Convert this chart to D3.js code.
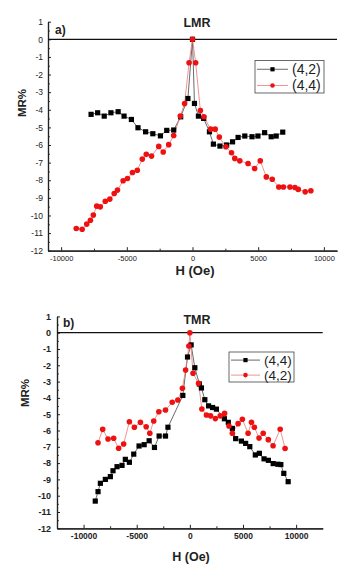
<!DOCTYPE html>
<html>
<head>
<meta charset="utf-8">
<script src="https://cdn.jsdelivr.net/npm/d3@7"></script>
<style>
  body { margin: 0; background: #fff; }
  svg { display: block; font-family: "Liberation Sans", Arial, sans-serif; }
</style>
</head>
<body>
<script>
// panel a) LMR, [H (Oe), MR%]
const lmr42 = [[-7720,-4.26],[-7220,-4.17],[-6720,-4.36],[-6210,-4.17],[-5660,-4.11],[-5210,-4.36],[-4650,-4.55],
  [-4150,-5.02],[-3570,-5.25],[-3020,-5.36],[-2440,-5.48],[-1960,-5.17],[-1430,-5.15],[-900,-4.4],[-350,-3.36],
  [0,0],[150,-3.64],[450,-4.36],[850,-4.49],[1290,-5.25],[1590,-5.95],[2090,-6.06],[2600,-6.0],[3050,-5.82],
  [3470,-5.57],[3980,-5.49],[4530,-5.53],[4980,-5.49],[5490,-5.3],[5990,-5.53],[6370,-5.49],[6870,-5.27]];
const lmr44 = [[-8850,-10.74],[-8400,-10.78],[-8050,-10.49],[-7770,-10.27],[-7550,-9.98],[-7290,-9.47],[-7020,-9.51],
  [-6640,-9.19],[-6290,-9.07],[-5960,-8.75],[-5710,-8.56],[-5280,-8.03],[-4950,-7.9],[-4570,-7.56],[-4200,-7.43],
  [-3820,-6.8],[-3520,-6.53],[-3120,-6.63],[-2570,-6.08],[-2230,-6.4],[-1810,-5.98],[-1430,-5.46],[-930,-4.36],
  [-600,-3.64],[-260,-1.33],[0,0],[240,-1.33],[600,-4.04],[870,-4.4],[1380,-5.1],[1730,-5.1],[2040,-5.55],
  [2540,-6.1],[2970,-6.44],[3220,-6.76],[3600,-6.9],[4230,-7.05],[4730,-7.33],[5160,-6.9],[5620,-7.81],
  [6070,-7.94],[6570,-8.38],[6920,-8.38],[7420,-8.38],[7800,-8.41],[8050,-8.52],[8580,-8.66],[9010,-8.6]];

// panel b) TMR
const tmr44 = [[-8900,-10.33],[-8640,-9.75],[-8420,-9.24],[-7950,-9.0],[-7480,-8.83],[-7230,-8.47],[-6850,-8.22],
  [-6380,-8.14],[-6070,-7.77],[-5690,-7.95],[-5280,-7.45],[-4780,-6.95],[-4300,-6.87],[-3830,-6.63],[-3330,-7.04],
  [-2890,-6.34],[-2290,-6.34],[-2060,-5.8],[-660,-3.85],[-220,-1.49],[120,-0.75],[470,-2.15],[900,-3.15],
  [1090,-3.39],[1410,-4.11],[1760,-4.49],[2140,-4.59],[2500,-4.69],[3250,-5.28],[3620,-5.5],[4000,-5.87],
  [4310,-6.5],[4850,-6.65],[5250,-6.79],[5640,-6.99],[6160,-7.5],[6540,-7.4],[6980,-7.74],[7390,-7.83],
  [7840,-8.03],[8280,-8.07],[8560,-8.09],[8840,-8.63],[9250,-9.14]];
const tmr42 = [[-8640,-6.75],[-8200,-5.93],[-7700,-6.52],[-7170,-6.48],[-6700,-7.09],[-6230,-6.83],[-5690,-5.46],
  [-5220,-5.8],[-4650,-5.5],[-4110,-5.77],[-3770,-6.17],[-3400,-5.42],[-2920,-4.85],[-2290,-4.74],[-1660,-4.27],
  [-1130,-4.13],[-700,-3.41],[-400,-2.29],[-90,-0.82],[0,0],[300,-2.49],[820,-3.1],[1130,-4.68],[1560,-5.05],
  [1950,-5.1],[2400,-5.27],[2860,-5.1],[3270,-4.95],[3680,-5.72],[4000,-6.17],[4540,-5.58],[4940,-5.31],
  [5480,-6.17],[5800,-5.49],[6070,-5.8],[6510,-6.46],[6900,-6.17],[7380,-6.56],[7830,-6.94],[8500,-5.92],[8960,-7.1]];

const yTicks = d3.range(-12, 2);
const yMinor = d3.range(-11.5, 1, 1);
const xTicks = [-10000, -5000, 0, 5000, 10000];
const xMinor = [-7500, -2500, 2500, 7500];

const svg = d3.select('body').append('svg').attr('width', 356).attr('height', 564);

function marker(sel, s, cx, cy, size) {
  if (s.shape === 'square') {
    sel.append('rect').attr('x', cx - size).attr('y', cy - size)
      .attr('width', size * 2).attr('height', size * 2).attr('fill', '#000');
  } else {
    sel.append('circle').attr('cx', cx).attr('cy', cy).attr('r', size + 0.2).attr('fill', '#ee1111');
  }
}

function drawPanel(p) {
  const x = d3.scaleLinear().domain(p.xDomain).range(p.xRange);
  const y = d3.scaleLinear().domain([-12, 1]).range(p.yRange);
  const g = svg.append('g');

  // axes, ticks point inward like Origin
  const xAx = g.append('g').attr('transform', `translate(0,${p.yRange[0]})`)
    .call(d3.axisBottom(x).tickValues(xTicks).tickSize(-3.5).tickSizeOuter(0).tickPadding(5).tickFormat(d => String(d)));
  g.append('g').attr('transform', `translate(0,${p.yRange[0]})`)
    .call(d3.axisBottom(x).tickValues(xMinor).tickSize(-2).tickSizeOuter(0).tickFormat(''));
  const yAx = g.append('g').attr('transform', `translate(${p.xRange[0]},0)`)
    .call(d3.axisLeft(y).tickValues(yTicks).tickSize(-3).tickSizeOuter(0).tickPadding(p.yPad).tickFormat(d => String(d)));
  g.append('g').attr('transform', `translate(${p.xRange[0]},0)`)
    .call(d3.axisLeft(y).tickValues(yMinor).tickSize(-1.8).tickSizeOuter(0).tickFormat(''));
  g.selectAll('.domain').attr('stroke', '#222').attr('stroke-width', 1.2);
  g.selectAll('.tick line').attr('stroke', '#222');
  xAx.selectAll('text').attr('font-size', p.xFont).attr('font-weight', p.tickWeight).attr('fill', '#222');
  yAx.selectAll('text').attr('font-size', p.yFont).attr('font-weight', p.tickWeight).attr('fill', '#222');

  // zero line
  g.append('line')
    .attr('x1', p.xRange[0]).attr('x2', p.xRange[1])
    .attr('y1', y(0)).attr('y2', y(0))
    .attr('stroke', '#111').attr('stroke-width', 1.3);

  const line = d3.line().x(d => x(d[0])).y(d => y(d[1]));

  p.series.forEach(s => {
    g.append('path').datum(s.data)
      .attr('d', line).attr('fill', 'none')
      .attr('stroke', s.lineColor).attr('stroke-width', 0.8);
  });
  p.series.forEach(s => {
    const mg = g.append('g');
    s.data.forEach(d => marker(mg, s, x(d[0]), y(d[1]), 2.6));
  });

  // legend
  const lg = g.append('g');
  lg.append('rect')
    .attr('x', p.legend.x).attr('y', p.legend.y)
    .attr('width', p.legend.w).attr('height', p.legend.h)
    .attr('fill', '#fff').attr('stroke', '#444').attr('stroke-width', 0.8);
  p.legendOrder.forEach((s, i) => {
    const ly = p.legend.y + p.legend.h * (0.27 + 0.5 * i);
    const lx0 = p.legend.x + 2, lx1 = p.legend.x + p.legend.sample;
    lg.append('line').attr('x1', lx0).attr('x2', lx1).attr('y1', ly).attr('y2', ly)
      .attr('stroke', s.lineColor).attr('stroke-width', 0.8);
    marker(lg, s, (lx0 + lx1) / 2, ly, 2.1);
    lg.append('text').attr('x', lx1 + 4).attr('y', ly + 4.8)
      .attr('font-size', p.legend.font).attr('fill', '#222').text(s.name);
  });

  // titles and labels
  g.append('text').attr('x', 197).attr('y', p.titleY).attr('text-anchor', 'middle')
    .attr('font-size', 12.5).attr('font-weight', 'bold').attr('fill', '#222').text(p.title);
  g.append('text').attr('x', p.tagX).attr('y', p.tagY)
    .attr('font-size', 12).attr('font-weight', 'bold').attr('fill', '#222').text(p.tag);
  g.append('text').attr('transform', `translate(${p.ylabX},${p.ylabY}) rotate(-90)`)
    .attr('text-anchor', 'middle').attr('font-size', 11.5).attr('font-weight', 'bold').attr('fill', '#222').text('MR%');
  g.append('text').attr('x', p.xlabX).attr('y', p.xlabY).attr('text-anchor', 'middle')
    .attr('font-size', p.xlabFont).attr('font-weight', 'bold').attr('fill', '#222').text('H (Oe)');
}

const a42 = { name: '(4,2)', data: lmr42, shape: 'square', lineColor: '#444' };
const a44 = { name: '(4,4)', data: lmr44, shape: 'circle', lineColor: '#e87878' };
drawPanel({
  xDomain: [-11000, 11000], xRange: [48, 337], yRange: [250.7, 21.7],
  xFont: 7.5, yFont: 8.5, yPad: 5, tickWeight: 'normal',
  series: [a42, a44], legendOrder: [a42, a44],
  legend: { x: 255, y: 60.5, w: 69, h: 32.5, sample: 33, font: 14 },
  title: 'LMR', titleY: 27, tag: 'a)', tagX: 55, tagY: 34,
  ylabX: 26, ylabY: 103, xlabX: 195, xlabY: 275, xlabFont: 13
});

const b44 = { name: '(4,4)', data: tmr44, shape: 'square', lineColor: '#444' };
const b42 = { name: '(4,2)', data: tmr42, shape: 'circle', lineColor: '#e87878' };
drawPanel({
  xDomain: [-12500, 12500], xRange: [57, 322.7], yRange: [528.3, 316.4],
  xFont: 8.5, yFont: 9, yPad: 6, tickWeight: 'bold',
  series: [b44, b42], legendOrder: [b44, b42],
  legend: { x: 229, y: 352, w: 65, h: 30, sample: 31, font: 13.5 },
  title: 'TMR', titleY: 324, tag: 'b)', tagX: 63, tagY: 327,
  ylabX: 29, ylabY: 393, xlabX: 191, xlabY: 561, xlabFont: 12.5
});
</script>
</body>
</html>
